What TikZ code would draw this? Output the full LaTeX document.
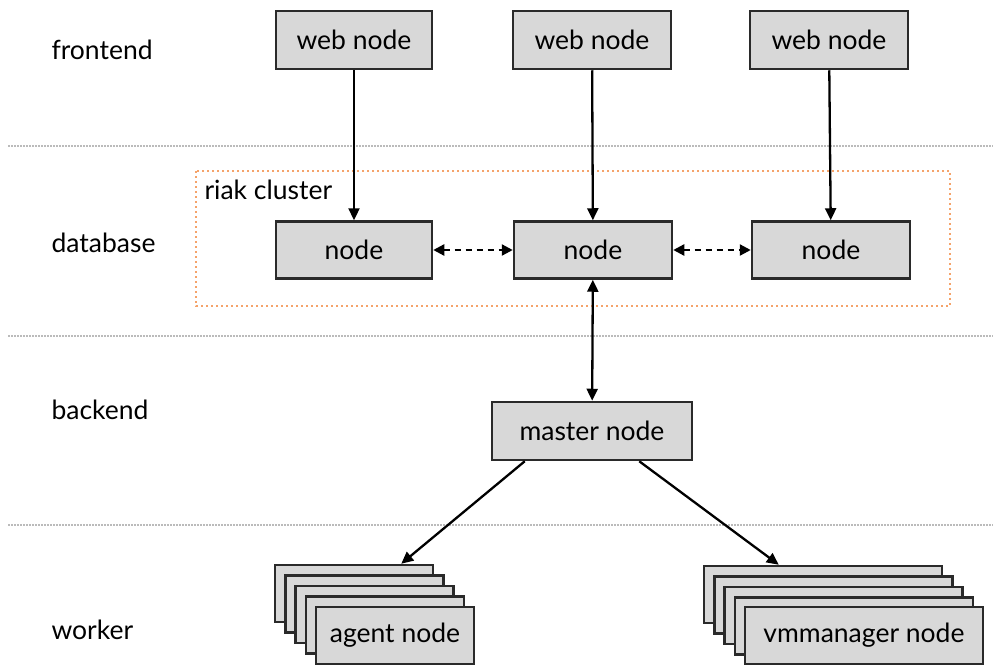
\documentclass[tikz,border=0pt]{standalone}
\usepackage{fontspec}
\setmainfont{Lato}
\usetikzlibrary{arrows.meta}
\definecolor{boxfill}{HTML}{D8D8D8}
\definecolor{boxline}{HTML}{2A2A2A}
\definecolor{sepline}{HTML}{BBBBBB}
\definecolor{riak}{HTML}{F5A36A}
\tikzset{
  box/.style={draw=boxline, line width=2.5pt, fill=boxfill, inner sep=0pt,
    font=\fontsize{26.5}{30}\selectfont, text=black},
  layer/.style={font=\fontsize{26.5}{30}\selectfont, text=black, anchor=west},
  sep/.style={draw=sepline, line width=1.3pt, dash pattern=on 1.5pt off 1.5pt},
  link/.style={draw=black, line width=2.3pt, -{Triangle[length=12pt,width=11pt]}},
  both/.style={draw=black, line width=2.3pt,
    {Triangle[length=12pt,width=11pt]}-{Triangle[length=12pt,width=11pt]}},
  peer/.style={draw=black, line width=2.3pt, dash pattern=on 6pt off 5pt,
    {Triangle[length=11pt,width=11pt]}-{Triangle[length=11pt,width=11pt]}},
}
\begin{document}
\begin{tikzpicture}[x=1pt,y=-1pt]
\useasboundingbox (0,0) rectangle (1001,664);
\clip (0,0) rectangle (1001,664);

% layer separators
\draw[sep] (8,146) -- (993,146);
\draw[sep] (8,336) -- (993,336);
\draw[sep] (8,525) -- (993,525);

% layer names
\node[layer] (lfront) at (48,50) {frontend};
\node[layer] (ldb) at (48,243) {database};
\node[layer] (lback) at (48,410) {backend};
\node[layer] (lwork) at (48,630) {worker};

% riak cluster outline
\draw[riak, line width=1.6pt, dash pattern=on 2pt off 3pt] (196,171) rectangle (950,306);
\node[layer] (riaklbl) at (201,190) {riak cluster};

% frontend
\node[box, minimum width=156pt, minimum height=58pt] (web1) at (354,40) {web node};
\node[box, minimum width=158pt, minimum height=58pt] (web2) at (592,40) {web node};
\node[box, minimum width=158pt, minimum height=58pt] (web3) at (829,40) {web node};

% database
\node[box, minimum width=156pt, minimum height=57pt] (db1) at (354,250) {node};
\node[box, minimum width=158pt, minimum height=57pt] (db2) at (593,250) {node};
\node[box, minimum width=158pt, minimum height=57pt] (db3) at (831,250) {node};

% backend
\node[box, minimum width=200pt, minimum height=58pt] (master) at (592,431) {master node};

% worker stacks, drawn back to front
\foreach \i in {1,...,4}{
  \node[box, minimum width=158pt, minimum height=57pt] (agent\i)
    at ({354+10.25*(\i-1)},{593.5+10.5*(\i-1)}) {};
  \node[box, minimum width=238pt, minimum height=57pt] (vmm\i)
    at ({823+10.25*(\i-1)},{594.5+10.5*(\i-1)}) {};
}
\node[box, minimum width=158pt, minimum height=57pt] (agent5) at (395,635.5) {agent node};
\node[box, minimum width=238pt, minimum height=57pt] (vmm5) at (864,635.5) {vmmanager node};

% connector end points on the master and the stacks
\coordinate (mA) at ([xshift=34pt]master.south west);
\coordinate (mV) at ([xshift=-54pt]master.south east);
\coordinate (aT) at ([xshift=-33pt]agent1.north east);
\coordinate (vT) at ([xshift=76pt]vmm1.north west);

% connectors
\draw[link] (web1) -- (db1);
\draw[link] (web2) -- (db2);
\draw[link] (web3) -- (db3);
\draw[peer] (db1) -- (db2);
\draw[peer] (db2) -- (db3);
\draw[both] (db2) -- (master);
\draw[link] (mA) -- (aT);
\draw[link] (mV) -- (vT);
\end{tikzpicture}
\end{document}
